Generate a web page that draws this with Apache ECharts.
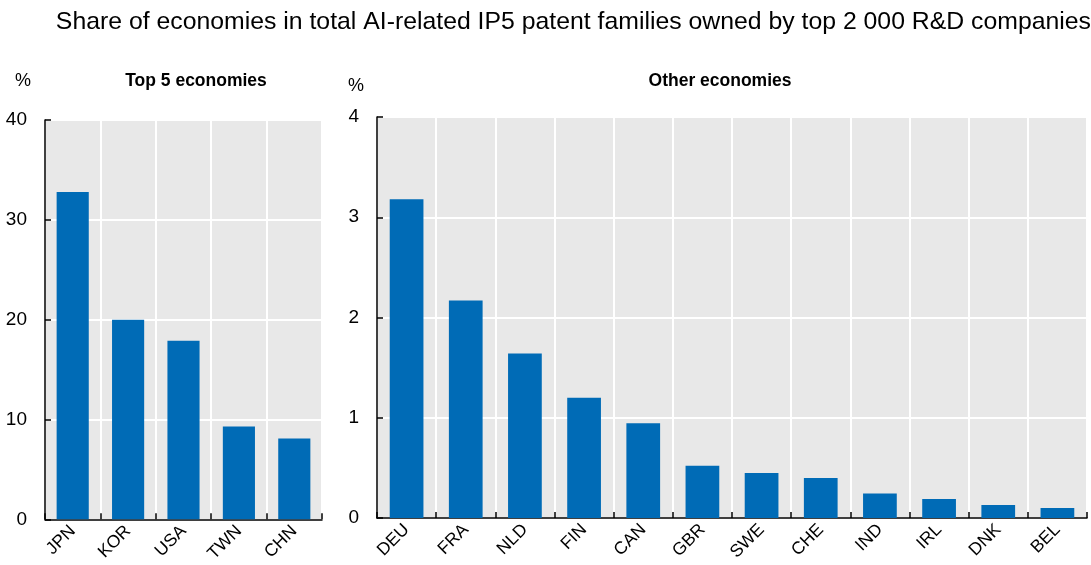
<!DOCTYPE html>
<html><head><meta charset="utf-8">
<script src="https://cdn.jsdelivr.net/npm/echarts@6/dist/echarts.min.js"></script>
<style>html,body{margin:0;padding:0;background:#fff}#c{width:1091px;height:565px}</style>
</head><body><div id="c"></div>
<script>
const topCats = ['JPN','KOR','USA','TWN','CHN'];
const topVals = [32.8, 20.0, 17.9, 9.3, 8.1];
const otherCats = ['DEU','FRA','NLD','FIN','CAN','GBR','SWE','CHE','IND','IRL','DNK','BEL'];
const otherVals = [3.18, 2.17, 1.64, 1.20, 0.945, 0.52, 0.45, 0.40, 0.245, 0.19, 0.13, 0.10];
const topTicks = [0, 10, 20, 30, 40];
const otherTicks = [0, 1, 2, 3, 4];

const font = '"Liberation Sans", Arial, sans-serif';
const BAR = '#006BB6';
const BG = '#E8E8E8';

function xAxis(idx, cats) {
  return {
    type: 'category', gridIndex: idx, data: cats,
    axisLine: {lineStyle: {color: '#000', width: 1.5}},
    axisTick: {show: true, inside: true, length: 6, lineStyle: {color: '#000', width: 1.5}},
    splitLine: {show: true, lineStyle: {color: '#fff', width: 2}},
    axisLabel: {rotate: 45, fontFamily: font, fontSize: 17.5, color: '#000', margin: 9}
  };
}
function yAxis(idx, ticks) {
  return {
    type: 'value', gridIndex: idx, min: ticks[0], max: ticks[ticks.length-1],
    interval: ticks[1]-ticks[0],
    axisLine: {show: true, lineStyle: {color: '#000', width: 1.5}},
    axisTick: {show: true, inside: true, length: 6, lineStyle: {color: '#000', width: 1.5}},
    splitLine: {show: true, lineStyle: {color: '#fff', width: 2}},
    axisLabel: {fontFamily: font, fontSize: 19, color: '#000', margin: 18}
  };
}

const chart = echarts.init(document.getElementById('c'));
chart.setOption({
  animation: false,
  title: [
    {text: 'Share of economies in total AI-related IP5 patent families owned by top 2 000 R&D companies',
     left: 1086, top: 5, textAlign: 'right',
     textStyle: {fontFamily: font, fontSize: 24.8, fontWeight: 'normal', color: '#000'}},
    {text: 'Top 5 economies', left: 191, top: 67, textAlign: 'center',
     textStyle: {fontFamily: font, fontSize: 17.5, fontWeight: 'bold', color: '#000'}},
    {text: 'Other economies', left: 715, top: 67, textAlign: 'center',
     textStyle: {fontFamily: font, fontSize: 17.5, fontWeight: 'bold', color: '#000'}},
    {text: '%', left: 10, top: 67, textStyle: {fontFamily: font, fontSize: 18, fontWeight: 'normal', color: '#000'}},
    {text: '%', left: 343, top: 72, textStyle: {fontFamily: font, fontSize: 18, fontWeight: 'normal', color: '#000'}}
  ],
  grid: [
    {left: 45, top: 120, width: 277, height: 400, show: true, backgroundColor: BG, borderWidth: 0},
    {left: 377, top: 117, width: 710, height: 401, show: true, backgroundColor: BG, borderWidth: 0}
  ],
  xAxis: [xAxis(0, topCats), xAxis(1, otherCats)],
  yAxis: [yAxis(0, topTicks), yAxis(1, otherTicks)],
  series: [
    {type: 'bar', xAxisIndex: 0, yAxisIndex: 0, data: topVals, barWidth: '58%', itemStyle: {color: BAR}},
    {type: 'bar', xAxisIndex: 1, yAxisIndex: 1, data: otherVals, barWidth: '57%', itemStyle: {color: BAR}}
  ]
});
</script></body></html>
